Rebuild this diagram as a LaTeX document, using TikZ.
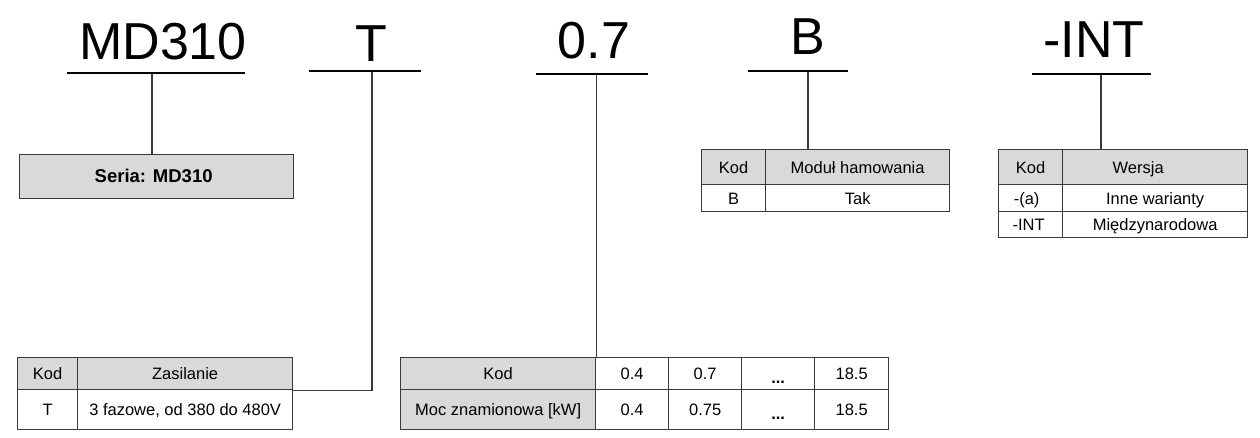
\documentclass[tikz,border=0pt]{standalone}
\usepackage{fontspec}
\setmainfont{Liberation Sans}
\definecolor{cellgrey}{HTML}{D9D9D9}
\definecolor{linegrey}{HTML}{3A3A3A}
\tikzset{
  big/.style={font=\fontsize{52}{60}\selectfont, anchor=base, inner sep=0pt},
  uline/.style={fill=black, inner sep=0pt, minimum height=2.4pt},
  cellbox/.style={draw=linegrey, line width=1.3pt, inner sep=0pt, anchor=north west,
    font=\fontsize{16.5}{19}\selectfont, text height=11.8pt, text depth=0pt},
  hdr/.style={cellbox, fill=cellgrey},
  conn/.style={draw=linegrey, line width=1.3pt},
}
\newcommand{\cellnode}[7]{% style, name, x1, y1, x2, y2, text
  \pgfmathsetmacro{\cw}{#5-#3}\pgfmathsetmacro{\ch}{#6-#4}%
  \node[#1, minimum width=\cw pt, minimum height=\ch pt] (#2) at (#3,#4) {#7};}
\begin{document}
\begin{tikzpicture}[x=1pt,y=-1pt]
\useasboundingbox (0,0) rectangle (1260,438);
% big labels
\node[big] (lmd) at (163,60) {MD310};
\node[big] (lt) at (371,62) {T};
\node[big] (lp) at (594,59) {0.7};
\node[big] (lb) at (808,55) {B};
\node[big] (li) at (1094,58) {-INT};
% underlines
\node[uline, minimum width=178pt] (u1) at (156,73) {};
\node[uline, minimum width=112pt] (u2) at (365,71) {};
\node[uline, minimum width=112pt] (u3) at (592,74) {};
\node[uline, minimum width=100pt] (u4) at (798,71) {};
\node[uline, minimum width=119pt] (u5) at (1091.5,74) {};
% Seria box
\cellnode{hdr}{seria}{19}{154}{293}{198}{\hspace*{-6pt}\fontsize{18.5}{20}\selectfont\bfseries Seria: MD310}
% Zasilanie table
\cellnode{hdr}{z11}{17}{357}{77}{389}{Kod}
\cellnode{hdr}{z12}{77}{357}{292}{389}{Zasilanie}
\cellnode{cellbox}{z21}{17}{389}{77}{429}{T}
\cellnode{cellbox}{z22}{77}{389}{292}{429}{3 fazowe, od 380 do 480V}
% Moc table
\cellnode{hdr}{m11}{400}{357}{595}{389}{Kod}
\cellnode{cellbox}{m12}{595}{357}{668}{389}{0.4}
\cellnode{cellbox}{m13}{668}{357}{741}{389}{0.7}
\cellnode{cellbox}{m14}{741}{357}{814}{389}{\raisebox{-4pt}{\textbf{...}}}
\cellnode{cellbox}{m15}{814}{357}{888}{389}{18.5}
\cellnode{hdr}{m21}{400}{389}{595}{429}{Moc znamionowa [kW]}
\cellnode{cellbox}{m22}{595}{389}{668}{429}{0.4}
\cellnode{cellbox}{m23}{668}{389}{741}{429}{0.75}
\cellnode{cellbox}{m24}{741}{389}{814}{429}{\raisebox{-4pt}{\textbf{...}}}
\cellnode{cellbox}{m25}{814}{389}{888}{429}{18.5}
% Brake table
\cellnode{hdr}{b11}{701}{149}{765}{184}{Kod}
\cellnode{hdr}{b12}{765}{149}{949}{184}{Moduł hamowania}
\cellnode{cellbox}{b21}{701}{184}{765}{211}{B}
\cellnode{cellbox}{b22}{765}{184}{949}{211}{Tak}
% Wersja table
\cellnode{hdr}{w11}{998}{149}{1062}{184}{Kod}
\cellnode{hdr}{w12}{1062}{149}{1247}{184}{\hspace*{-34pt}Wersja}
\cellnode{cellbox}{w21}{998}{184}{1062}{211}{\hspace*{-8pt}-(a)}
\cellnode{cellbox}{w22}{1062}{184}{1247}{211}{Inne warianty}
\cellnode{cellbox}{w31}{998}{211}{1062}{237}{\hspace*{-4pt}-INT}
\cellnode{cellbox}{w32}{1062}{211}{1247}{237}{Międzynarodowa}
% connectors
\draw[conn] ([xshift=-4pt]u1.south) -- ([xshift=-4pt]u1.south |- seria.north);
\draw[conn] ([xshift=7pt]u2.south) |- (z12.south east);
\draw[conn] (m11.north east |- u3.south) -- (m11.north east);
\draw[conn] ([xshift=10pt]u4.south) -- ([xshift=10pt]u4.south |- b12.north);
\draw[conn] ([xshift=9.5pt]u5.south) -- ([xshift=9.5pt]u5.south |- w12.north);
\end{tikzpicture}
\end{document}
